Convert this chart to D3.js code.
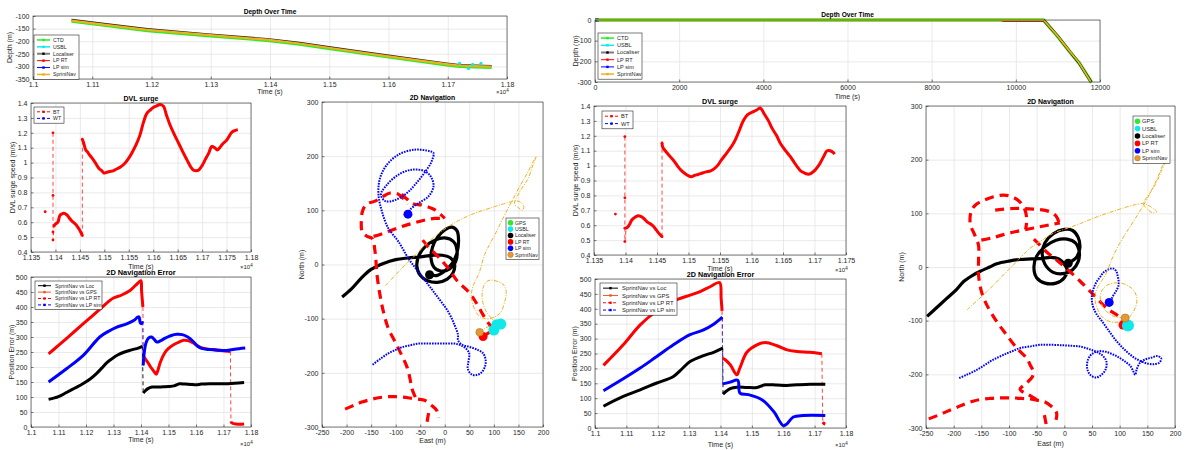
<!DOCTYPE html>
<html><head><meta charset="utf-8">
<script src="https://cdn.jsdelivr.net/npm/d3@7"></script>
<style>
body{margin:0;background:#fff}
svg{display:block}
</style></head><body>
<svg id="fig" width="1188" height="450"></svg>
<script>
// ---------------- tick values ----------------
const timeTicks8 = [1.1, 1.11, 1.12, 1.13, 1.14, 1.15, 1.16, 1.17, 1.18];
const dvlTicksL = [1.135, 1.14, 1.145, 1.15, 1.155, 1.16, 1.165, 1.17, 1.175, 1.18];
const dvlTicksR = [1.135, 1.14, 1.145, 1.15, 1.155, 1.16, 1.165, 1.17, 1.175];
const surgeTicks = [0.4, 0.5, 0.6, 0.7, 0.8, 0.9, 1, 1.1, 1.2, 1.3, 1.4];
const errTicks = [0, 50, 100, 150, 200, 250, 300, 350, 400, 450, 500];
const depthTicksL = [-350, -300, -250, -200, -150, -100];
const depthTicksR = [-300, -200, -100, 0];
const secondsTicks = [0, 2000, 4000, 6000, 8000, 10000, 12000];
const eastTicks = [-250, -200, -150, -100, -50, 0, 50, 100, 150, 200];
const northTicks = [-300, -200, -100, 0, 100, 200, 300];

// ---------------- legend names ----------------
const depthNames = ['CTD', 'USBL', 'Localiser', 'LP RT', 'LP sim', 'SprintNav'];
const dvlNames = ['BT', 'WT'];
const errNames = ['SprintNav vs Loc', 'SprintNav vs GPS', 'SprintNav vs LP RT', 'SprintNav vs LP sim'];
const navNames = ['GPS', 'USBL', 'Localiser', 'LP RT', 'LP sim', 'SprintNav'];

// ---------------- depth over time (left run, time x10^4 s) ----------------
const ctdDepthL = [[1.1065,-122],[1.113,-141],[1.1193,-159],[1.1294,-179],[1.1395,-198],[1.145,-213],[1.1499,-230],[1.1597,-263],[1.1698,-295],[1.172,-301],[1.1774,-305]];
const locDepthL = [[1.1065,-115],[1.113,-134],[1.1193,-152],[1.1294,-172],[1.1395,-191],[1.145,-206],[1.1499,-223],[1.1597,-256],[1.1698,-288],[1.172,-294],[1.1774,-298]];
const navDepthL = [[1.1065,-118],[1.113,-137],[1.1193,-155],[1.1294,-175],[1.1395,-194],[1.145,-209],[1.1499,-226],[1.1597,-259],[1.1698,-291],[1.172,-297],[1.1774,-301]];
const usblDepthL = [[1.172,-288],[1.1735,-308],[1.1742,-292],[1.1756,-288]];

// ---------------- depth over time (right run, s) ----------------
const ctdDepthR = [[0,0],[10660,0],[10990,-78],[11300,-158],[11500,-207],[11800,-302]];
const locDepthR = [[9700,-1],[10660,-1],[10985,-75],[11295,-156],[11492,-205],[11790,-300]];
const lpRtDepthR = [[9650,-4],[10660,-4],[10980,-74],[11292,-155]];
const lpSimDepthR = [[0,0],[90,0]];
const navDepthR = [[0,0],[10660,0],[10976,-73],[11292,-154],[11490,-203],[11785,-300]];

// ---------------- DVL surge, bottom track (left run) ----------------
const btSpotL = [[1.1379,0.67]];
const btDropL = [[1.1395,1.2],[1.1395,0.78],[1.1395,0.535],[1.1395,0.48],[1.1397,0.575]];
const btArcL1 = [[1.1397,0.575],[1.1401,0.59],[1.1405,0.6],[1.1409,0.645],[1.1413,0.655],[1.1417,0.66],[1.1423,0.65],[1.1428,0.63],[1.1433,0.61],[1.1438,0.595],[1.1443,0.58],[1.1447,0.56],[1.145,0.545],[1.1453,0.525],[1.1455,0.51]];
const btRiseL = [[1.1455,0.51],[1.1455,1.157]];
const btArcL2 = [[1.1455,1.157],[1.1457,1.14],[1.1462,1.085],[1.1466,1.07],[1.147,1.05],[1.1475,1.03],[1.148,1.007],[1.1485,0.98],[1.149,0.957],[1.1495,0.945],[1.1499,0.93],[1.1505,0.935],[1.1511,0.94],[1.1518,0.945],[1.1525,0.957],[1.1533,0.97],[1.1542,0.995],[1.155,1.03],[1.1556,1.063],[1.1565,1.12],[1.1573,1.186],[1.158,1.27],[1.1587,1.33],[1.1593,1.35],[1.16,1.37],[1.1607,1.38],[1.1614,1.39],[1.1621,1.378],[1.1627,1.32],[1.1634,1.256],[1.1643,1.19],[1.1652,1.13],[1.166,1.075],[1.1669,1.018],[1.1676,0.975],[1.1682,0.95],[1.1688,0.945],[1.1693,0.95],[1.17,0.98],[1.1706,1.018],[1.1713,1.06],[1.172,1.108],[1.1726,1.1],[1.1731,1.085],[1.1736,1.1],[1.1742,1.125],[1.175,1.15],[1.1761,1.205],[1.1767,1.215],[1.1773,1.22]];

// ---------------- DVL surge, bottom track (right run) ----------------
const btSpotR = [[1.1384,0.675]];
const btDropR = [[1.1399,1.195],[1.1399,0.784],[1.1399,0.58],[1.1399,0.49],[1.1401,0.58]];
const btArcR1 = [[1.1401,0.58],[1.1404,0.59],[1.1407,0.61],[1.141,0.635],[1.1414,0.65],[1.142,0.663],[1.1425,0.657],[1.1429,0.645],[1.1433,0.628],[1.1437,0.615],[1.1441,0.605],[1.1445,0.59],[1.1449,0.567],[1.1453,0.545],[1.1458,0.523]];
const btRiseR = [[1.1458,0.523],[1.1458,1.152]];
const btArcR2 = [[1.1458,1.152],[1.1459,1.125],[1.1463,1.1],[1.1467,1.08],[1.1472,1.055],[1.1478,1.025],[1.1483,0.995],[1.1488,0.97],[1.1496,0.942],[1.1504,0.925],[1.151,0.935],[1.1515,0.94],[1.1522,0.95],[1.1528,0.958],[1.1535,0.965],[1.1541,0.98],[1.1547,1.005],[1.1552,1.036],[1.1562,1.092],[1.157,1.14],[1.1575,1.18],[1.1581,1.24],[1.1586,1.293],[1.1594,1.342],[1.1604,1.364],[1.1609,1.375],[1.1614,1.387],[1.162,1.348],[1.1627,1.3],[1.1633,1.248],[1.164,1.2],[1.1646,1.148],[1.1654,1.1],[1.1662,1.058],[1.1668,1.02],[1.1673,0.99],[1.1678,0.965],[1.1683,0.953],[1.1691,0.942],[1.1699,0.962],[1.1707,1.003],[1.1715,1.065],[1.172,1.1],[1.1725,1.1],[1.1729,1.09],[1.1732,1.077]];

// ---------------- 2D navigation error (left run) ----------------
const errLocL1 = [[1.1064,92],[1.11,101],[1.1129,115],[1.116,130],[1.119,145],[1.1215,160],[1.1238,178],[1.1258,197],[1.1275,214],[1.1295,228],[1.1315,240],[1.134,250],[1.1365,257],[1.139,263],[1.1405,269]];
const errLocLJ = [[1.1405,269],[1.1408,113]];
const errLocL2 = [[1.1408,113],[1.1415,120],[1.1425,128],[1.144,133],[1.146,133],[1.148,134],[1.15,135],[1.152,137],[1.154,144],[1.156,143],[1.158,142],[1.16,141],[1.162,143],[1.165,144],[1.168,144],[1.171,144],[1.174,146],[1.1775,148]];
const errRtL1 = [[1.1064,244],[1.11,272],[1.114,304],[1.118,336],[1.122,368],[1.1255,396],[1.1287,422],[1.13,430],[1.133,440],[1.136,455],[1.138,472],[1.1395,485],[1.14,487],[1.1402,455],[1.1405,420],[1.1407,400]];
const errRtLJ = [[1.1407,400],[1.1408,238]];
const errRtL2 = [[1.1408,238],[1.1415,228],[1.1425,215],[1.1435,200],[1.1445,188],[1.1455,176],[1.146,185],[1.147,215],[1.1485,245],[1.15,262],[1.152,275],[1.154,284],[1.1555,289],[1.157,288],[1.159,280],[1.161,268],[1.163,262],[1.166,258],[1.169,255],[1.1725,252]];
const errRtLJ2 = [[1.1725,252],[1.1727,19]];
const errRtL3 = [[1.1727,19],[1.173,14],[1.1745,10],[1.176,9],[1.1775,10]];
const errSimL1 = [[1.1064,150],[1.1129,194],[1.119,239],[1.125,300],[1.128,318],[1.131,332],[1.1348,344],[1.1375,356],[1.1388,366],[1.1393,367],[1.1397,348],[1.1402,345],[1.1406,352]];
const errSimLJ = [[1.1406,352],[1.1408,205]];
const errSimL2 = [[1.1408,205],[1.1412,250],[1.1418,280],[1.1428,297],[1.1438,300],[1.1448,292],[1.1458,283],[1.147,287],[1.149,297],[1.151,305],[1.153,309],[1.155,308],[1.157,300],[1.159,285],[1.1605,270],[1.162,262],[1.165,258],[1.168,256],[1.171,255],[1.174,259],[1.1779,263]];

// ---------------- 2D navigation error (right run) ----------------
const errLocR1 = [[1.1027,73],[1.109,106],[1.1144,128],[1.1197,151],[1.125,173],[1.1277,198],[1.1303,223],[1.1346,243],[1.1378,254],[1.1407,268]];
const errLocRJ = [[1.1407,268],[1.1408,114]];
const errLocR2 = [[1.1408,114],[1.1431,132],[1.1452,137],[1.1484,136],[1.1516,136],[1.1543,145],[1.158,144],[1.1612,143],[1.1644,145],[1.1686,147],[1.1734,147]];
const errRtR1 = [[1.1027,210],[1.109,279],[1.1144,346],[1.1197,393],[1.125,426],[1.1303,446],[1.1335,458],[1.1367,474],[1.1397,488],[1.1402,435],[1.1405,393]];
const errRtRJ = [[1.1405,393],[1.1407,234]];
const errRtR2 = [[1.1407,234],[1.1415,229],[1.1431,212],[1.1452,179],[1.1461,199],[1.1484,254],[1.1516,279],[1.1543,287],[1.158,276],[1.1612,262],[1.1644,257],[1.1686,254],[1.1723,249]];
const errRtRJ2 = [[1.1723,249],[1.1726,20]];
const errRtR3 = [[1.1726,20],[1.173,15],[1.1734,13]];
const errSimR1 = [[1.1027,125],[1.109,165],[1.1144,201],[1.1197,240],[1.125,279],[1.1303,313],[1.1346,329],[1.1378,348],[1.1406,372]];
const errSimRJ = [[1.1406,372],[1.1407,148]];
const errSimR2 = [[1.1407,148],[1.1431,154],[1.1455,160],[1.1462,117],[1.1489,112],[1.1532,95],[1.1569,56],[1.16,8],[1.1611,13],[1.1632,37],[1.1664,42],[1.1734,42]];

// ---------------- 2D navigation tracks, East/North (m) (left run) ----------------
const locTrackL = [[-209,-60],[-190,-45],[-170,-25],[-150,-9],[-125,2],[-100,9],[-75,12],[-50,14],[-25,17],[-5,17],[12,12],[20,0],[17,-15],[5,-27],[-15,-33],[-35,-30],[-50,-20],[-57,-2],[-52,18],[-40,33],[-20,45],[0,49],[18,42],[25,25],[22,5],[10,-8],[-8,-12],[-22,-5],[-28,12],[-25,32],[-15,50],[0,64],[15,69],[25,62],[28,45],[25,22],[15,2],[0,-12],[-15,-20],[-31,-19]];
const lpRtTrackL = [[-203,-267],[-185,-260],[-169,-254],[-150,-249],[-135,-246],[-115,-244],[-101,-244],[-85,-245],[-67,-247],[-50,-249],[-40,-251],[-27,-260],[-16,-270],[-12,-283],null,
  [-33,-274],[-35,-285],[-37,-297],null,
  [-60,-245],[-67,-229],[-71,-210],[-77,-189],[-88,-167],[-101,-143],[-115,-118],[-125,-87],[-132,-56],[-138,-19],[-142,24],[-148,48],[-158,52],[-168,60],[-170,79],[-167,100],[-158,112],[-142,117],[-125,126],[-111,132],[-95,130],[-85,122],[-75,112],null,
  [-88,130],[-76,120],[-65,112],[-47,110],[-30,105],[-20,101],[-8,92],[0,85],null,
  [-145,52],[-130,56],[-115,61],[-100,66],[-88,70],[-70,75],[-54,79],[-35,83],[-20,85],[0,85],null,
  [-45,45],[-33,32],[-13,14],[7,-7],[27,-32],[48,-50],[65,-72],[78,-93],[92,-112],[100,-118],[88,-127],[78,-133]];
const lpSimTrackL = [[-147,-185],[-131,-174],[-115,-164],[-101,-158],[-88,-153],[-70,-149],[-54,-146],[-33,-146],[-13,-146],[5,-146],[20,-146],[35,-150],[45,-157],[50,-165],[48,-180],[47,-193],[55,-203],[65,-204],[75,-199],[82,-188],[83,-175],[78,-164],[68,-158],[50,-152],[35,-148],[27,-140],[27,-130],[20,-112],[7,-87],[-13,-62],[-33,-38],[-54,-13],[-74,11],[-94,42],[-115,67],[-128,98],[-135,129],[-132,159],[-118,184],[-94,203],[-61,212],[-30,209],[-23,206],[-27,190],[-44,166],[-61,147],[-77,132],[-101,119],[-121,117],[-130,129],[-118,147],[-94,166],[-67,175],[-40,172],[-27,160],[-23,144],[-33,126],[-54,113],[-71,101],[-75,93]];
const sprintTrackL = [[-121,-39],[-101,-20],[-81,-1],[-57,20],[-33,42],[-13,57],[7,70],[30,82],[54,92],[78,100],[102,107],[120,112],[136,116],[149,117],[157,113],[161,105],[158,100],[150,105],[142,112],[150,130],[160,145],[170,159],[178,180],[186,199],[180,190],[170,172],[155,148],[136,116],[120,88],[102,55],[90,35],[81,18],[73,-7],[68,-20],[61,-32],[56,-45],[54,-56],[56,-70],[62,-85],[71,-96],[83,-100],[95,-99],[107,-94],[115,-87],[121,-72],[125,-56],[124,-45],[118,-36],[109,-32],[98,-29],[88,-30],[80,-38],[76,-55],[78,-72],[85,-88],[96,-100],[102,-108],[88,-115],[78,-120],[71,-125]];
const usblFixesL = [[100,-121],[106,-111],[114,-110]];

// ---------------- 2D navigation tracks, East/North (m) (right run) ----------------
const locTrackR = [[-248,-92],[-230,-75],[-212,-58],[-195,-42],[-182,-27],[-165,-15],[-152,-8],[-135,0],[-122,6],[-100,11],[-80,14],[-60,15],[-40,16],[-25,18],[-10,15],[0,5],[5,-5],[0,-20],[-15,-30],[-35,-30],[-50,-20],[-55,0],[-50,20],[-35,38],[-15,50],[5,52],[20,45],[27,28],[25,10],[15,-5],[0,-12],[-20,-10],[-35,5],[-40,25],[-35,45],[-20,62],[0,70],[15,68],[25,55],[28,35],[22,18],[7,7]];
const lpRtTrackR = [[-245,-283],[-225,-275],[-212,-269],[-195,-262],[-182,-256],[-165,-250],[-152,-247],[-135,-245],[-122,-244],[-105,-244],[-92,-244],[-75,-245],[-62,-246],[-50,-248],[-38,-250],[-23,-260],[-14,-272],[-15,-285],null,
  [-36,-276],[-34,-287],[-32,-297],null,
  [-50,-247],[-65,-238],[-80,-228],[-70,-218],[-58,-205],[-56,-195],[-62,-182],[-68,-170],[-86,-151],[-104,-127],[-122,-102],[-140,-71],[-150,-45],[-155,-15],[-155,15],[-155,40],[-162,60],[-170,80],[-168,105],[-160,116],[-152,121],[-128,131],[-110,134],[-95,131],[-80,121],[-71,106],[-68,87],[-70,70],null,
  [-150,50],[-128,55],[-104,62],[-74,69],[-44,75],[-20,80],[-8,82],null,
  [-125,106],[-92,109],[-56,108],[-26,103],[-15,95],[-10,84],null,
  [-55,52],[-50,47],[-32,28],[-14,13],[4,-3],[29,-27],[53,-52],[77,-77],[101,-95],[106,-108]];
const lpSimTrackR = [[-190,-207],[-177,-201],[-164,-195],[-149,-186],[-134,-176],[-119,-168],[-104,-161],[-92,-156],[-80,-151],[-62,-148],[-44,-145],[-22,-145],[-1,-146],[15,-147],[28,-148],[42,-152],[53,-156],[62,-160],[70,-166],[76,-176],[75,-190],[67,-201],[57,-206],[46,-200],[41,-187],[43,-172],[50,-162],[62,-157],[75,-158],[88,-163],[101,-170],[112,-178],[119,-184],[124,-193],[128,-201],[131,-190],[137,-178],[147,-172],[157,-169],[168,-166],[175,-170],[172,-178],[162,-181],[150,-180],[137,-175],[125,-168],[113,-158],[104,-149],[95,-139],[86,-127],[77,-114],[68,-101],[59,-89],[53,-77],[50,-65],[50,-52],[53,-40],[58,-28],[65,-18],[71,-10],[77,-6],[84,-3],[89,-3],[94,-8],[96,-15],[98,-25],[98,-34],[94,-44],[89,-52],[85,-60],[81,-66]];
const sprintTrackR = [[-176,-80],[-158,-63],[-140,-46],[-116,-21],[-92,4],[-77,20],[-62,35],[-40,50],[-20,63],[5,72],[29,81],[53,91],[77,100],[95,106],[113,112],[128,116],[143,118],[155,113],[163,107],[167,103],[160,101],[150,108],[143,118],[155,138],[167,159],[175,178],[182,196],[178,190],[173,177],[160,148],[143,115],[128,90],[113,66],[100,44],[89,22],[83,7],[77,-9],[68,-25],[59,-40],[56,-52],[56,-65],[60,-78],[65,-89],[73,-97],[83,-102],[95,-103],[107,-102],[117,-94],[125,-83],[130,-70],[131,-58],[128,-48],[122,-40],[112,-33],[101,-30],[88,-30],[77,-34],[69,-42],[65,-52],[66,-65],[71,-77],[80,-86],[89,-92],[100,-94],[110,-95]];
const usblFixesR = [[115,-109]];

// ---------------- styling ----------------
const FONT = '"Liberation Sans", Arial, Helvetica, sans-serif';
const INK = '#262626';
const C = {
  ctd: '#22ee22', usbl: '#11e8e8', loc: '#000000', rt: '#ff0000', sim: '#0000ff',
  sprint: '#edb120', gps: '#e8582a', gpsDot: '#33e633'
};
const svg = d3.select('#fig').attr('font-family', FONT);
const fmt = v => String(+(+v).toFixed(4));

function panel(o) {
  const x = d3.scaleLinear().domain(o.xDomain).range([o.left, o.right]);
  const y = d3.scaleLinear().domain(o.yDomain).range([o.bottom, o.top]);
  const w = o.right - o.left, h = o.bottom - o.top;
  const g = svg.append('g');
  const gridStyle = s => {
    s.select('.domain').remove();
    s.selectAll('line').attr('stroke', '#e1e1e1').attr('stroke-width', 0.7);
  };
  g.append('g').attr('transform', `translate(0,${o.bottom})`)
    .call(d3.axisBottom(x).tickValues(o.xTicks).tickSize(-h).tickFormat(''))
    .call(gridStyle);
  g.append('g').attr('transform', `translate(${o.left},0)`)
    .call(d3.axisLeft(y).tickValues(o.yTicks).tickSize(-w).tickFormat(''))
    .call(gridStyle);
  const plot = g.append('g');
  const ax = g.append('g').attr('transform', `translate(0,${o.bottom})`)
    .call(d3.axisBottom(x).tickValues(o.xTicks).tickFormat(fmt).tickSizeInner(-2.5).tickSizeOuter(0).tickPadding(3.5));
  const ay = g.append('g').attr('transform', `translate(${o.left},0)`)
    .call(d3.axisLeft(y).tickValues(o.yTicks).tickFormat(fmt).tickSizeInner(-2.5).tickSizeOuter(0).tickPadding(3.5));
  [ax, ay].forEach(a => {
    a.attr('font-family', FONT).attr('font-size', 7);
    a.select('.domain').remove();
    a.selectAll('line').attr('stroke', INK).attr('stroke-width', 0.6);
    a.selectAll('text').attr('fill', INK);
  });
  g.append('rect').attr('x', o.left).attr('y', o.top).attr('width', w).attr('height', h)
    .attr('fill', 'none').attr('stroke', INK).attr('stroke-width', 0.6);
  g.append('text').attr('x', (o.left + o.right) / 2).attr('y', o.titleY)
    .attr('text-anchor', 'middle').attr('font-size', o.titleSize).attr('font-weight', 'bold')
    .attr('fill', '#000').text(o.title);
  g.append('text').attr('x', (o.left + o.right) / 2).attr('y', o.xlabelY)
    .attr('text-anchor', 'middle').attr('font-size', 7).attr('fill', INK).text(o.xlabel);
  g.append('text').attr('transform', `translate(${o.ylabelX},${(o.top + o.bottom) / 2}) rotate(-90)`)
    .attr('text-anchor', 'middle').attr('font-size', 7).attr('fill', INK).text(o.ylabel);
  if (o.expY) {
    const t = g.append('text').attr('x', o.right - 11).attr('y', o.expY)
      .attr('font-size', 6).attr('fill', INK);
    t.append('tspan').text('\u00d710');
    t.append('tspan').attr('dy', -2.5).attr('font-size', 4.5).text('4');
  }
  return { x, y, g, plot };
}

function drawLine(p, data, style) {
  const line = d3.line().defined(d => d != null).x(d => p.x(d[0])).y(d => p.y(d[1]))
    .curve(style.smooth ? d3.curveCatmullRom.alpha(0.5) : d3.curveLinear);
  return p.plot.append('path').datum(data).attr('d', line)
    .attr('fill', 'none').attr('stroke', style.color).attr('stroke-width', style.width || 1)
    .attr('stroke-dasharray', style.dash || null)
    .attr('stroke-linejoin', 'round').attr('stroke-linecap', style.cap || 'butt');
}
function drawDots(p, data, style) {
  p.plot.append('g').selectAll('circle').data(data).join('circle')
    .attr('cx', d => p.x(d[0])).attr('cy', d => p.y(d[1])).attr('r', style.r)
    .attr('fill', style.color).attr('stroke', style.stroke || 'none').attr('stroke-width', style.sw || 0);
}

function legend(p, o) {
  const lg = p.g.append('g');
  const h = o.items.length * o.rowH + 3;
  lg.append('rect').attr('x', o.x).attr('y', o.y).attr('width', o.w).attr('height', h)
    .attr('fill', '#fff').attr('stroke', INK).attr('stroke-width', 0.6);
  o.items.forEach((it, i) => {
    const cy = o.y + 1.5 + o.rowH * (i + 0.5);
    if (it.kind === 'dot') {
      lg.append('circle').attr('cx', o.x + 4.5).attr('cy', cy).attr('r', it.r || 2.8)
        .attr('fill', it.color).attr('stroke', it.stroke || 'none').attr('stroke-width', 0.5);
    } else {
      const x0 = o.x + 3, x1 = o.x + 3 + o.sample;
      lg.append('line').attr('x1', x0).attr('x2', x1).attr('y1', cy).attr('y2', cy)
        .attr('stroke', it.color).attr('stroke-width', it.width || 1)
        .attr('stroke-dasharray', it.dash || null);
      lg.append('rect').attr('x', (x0 + x1) / 2 - 1.2).attr('y', cy - 1.2).attr('width', 2.4).attr('height', 2.4)
        .attr('fill', it.marker || it.color);
    }
    lg.append('text').attr('x', o.x + o.textX).attr('y', cy).attr('dy', '0.35em')
      .attr('font-size', o.fs).attr('fill', INK).text(it.label);
  });
}

const SOLID_THICK = c => ({ color: c, width: 3, smooth: true });
const JUMP = c => ({ color: c, width: 0.9, dash: '4,3' });

// ================= LEFT DASHBOARD =================
const depthL = panel({ left: 33, right: 507, top: 16, bottom: 79, xDomain: [1.1, 1.18], yDomain: [-350, -100],
  xTicks: timeTicks8, yTicks: depthTicksL, title: 'Depth Over Time', titleSize: 6.6, titleY: 13.5, xlabel: 'Time (s)', xlabelY: 94,
  ylabel: 'Depth (m)', ylabelX: 12, expY: 94 });
drawLine(depthL, ctdDepthL, { color: C.ctd, width: 2.6 });
drawLine(depthL, locDepthL, { color: '#222', width: 2 });
drawLine(depthL, navDepthL, { color: C.sprint, width: 2.2 });
drawDots(depthL, usblDepthL, { color: C.usbl, r: 1.6 });
legend(depthL, { x: 34, y: 35, w: 45, rowH: 6.9, fs: 5.2, sample: 13, textX: 19, items: [
  { label: depthNames[0], color: C.ctd, width: 1.5 },
  { label: depthNames[1], color: C.usbl, width: 1.5 },
  { label: depthNames[2], color: '#7f7f7f', width: 2, marker: '#000' },
  { label: depthNames[3], color: C.rt },
  { label: depthNames[4], color: C.sim },
  { label: depthNames[5], color: C.sprint, width: 1.5 } ] });

const dvlL = panel({ left: 31, right: 251, top: 103, bottom: 252, xDomain: [1.135, 1.18], yDomain: [0.4, 1.4],
  xTicks: dvlTicksL, yTicks: surgeTicks, title: 'DVL surge', titleSize: 7, titleY: 101, xlabel: 'Time (s)', xlabelY: 269,
  ylabel: 'DVL surge speed (m/s)', ylabelX: 15, expY: 269 });
drawLine(dvlL, btDropL, JUMP('#ff3030'));
drawLine(dvlL, btRiseL, JUMP('#ff3030'));
drawLine(dvlL, btArcL1, SOLID_THICK(C.rt));
drawLine(dvlL, btArcL2, SOLID_THICK(C.rt));
drawDots(dvlL, btSpotL.concat(btDropL, btRiseL), { color: C.rt, r: 1.4 });
legend(dvlL, { x: 34, y: 107, w: 30, rowH: 6.6, fs: 5.2, sample: 13, textX: 19, items: [
  { label: dvlNames[0], color: C.rt, dash: '3,2' },
  { label: dvlNames[1], color: C.sim, dash: '3,2' } ] });

const errL = panel({ left: 31, right: 251, top: 277, bottom: 427, xDomain: [1.1, 1.18], yDomain: [0, 500],
  xTicks: timeTicks8, yTicks: errTicks, title: '2D Navigation Error', titleSize: 7.4, titleY: 275, xlabel: 'Time (s)', xlabelY: 442,
  ylabel: 'Position Error (m)', ylabelX: 14, expY: 446 });
[[errLocLJ, '#000'], [errRtLJ, '#ff3030'], [errRtLJ2, '#ff3030'], [errSimLJ, '#3030ff']].forEach(([d, c]) =>
  drawLine(errL, d, JUMP(c)));
[errLocL1, errLocL2].forEach(d => drawLine(errL, d, SOLID_THICK(C.loc)));
[errRtL1, errRtL2, errRtL3].forEach(d => drawLine(errL, d, SOLID_THICK(C.rt)));
[errSimL1, errSimL2].forEach(d => drawLine(errL, d, SOLID_THICK(C.sim)));
legend(errL, { x: 35, y: 281, w: 67, rowH: 6.4, fs: 5.2, sample: 13, textX: 20, items: [
  { label: errNames[0], color: C.loc },
  { label: errNames[1], color: C.gps },
  { label: errNames[2], color: C.rt, dash: '3,2' },
  { label: errNames[3], color: C.sim, dash: '3,2' } ] });

const navL = panel({ left: 322, right: 543, top: 102, bottom: 427, xDomain: [-250, 200], yDomain: [-300, 300],
  xTicks: eastTicks, yTicks: northTicks, title: '2D Navigation', titleSize: 6.8, titleY: 100, xlabel: 'East (m)', xlabelY: 443,
  ylabel: 'North (m)', ylabelX: 304 });
drawLine(navL, locTrackL, { color: C.loc, width: 3.2, smooth: true });
drawLine(navL, lpRtTrackL, { color: C.rt, width: 3.2, dash: '9,6', smooth: true });
drawLine(navL, lpSimTrackL, { color: C.sim, width: 2, dash: '1.6,1.1', smooth: true });
drawLine(navL, sprintTrackL, { color: C.sprint, width: 1, dash: '4,1.5,1,1.5', smooth: true });
drawDots(navL, [locTrackL[locTrackL.length - 1]], { color: C.loc, r: 4.5 });
drawDots(navL, [lpRtTrackL[lpRtTrackL.length - 1]], { color: C.rt, r: 4.5 });
drawDots(navL, [lpSimTrackL[lpSimTrackL.length - 1]], { color: C.sim, r: 4.5 });
drawDots(navL, usblFixesL, { color: C.usbl, r: 5.5 });
drawDots(navL, [sprintTrackL[sprintTrackL.length - 1]], { color: '#e39a35', r: 3.8, stroke: '#b07020', sw: 0.6 });
legend(navL, { x: 506, y: 218, w: 33, rowH: 6.4, fs: 5.2, textX: 9, items: [
  { label: navNames[0], kind: 'dot', color: C.gpsDot },
  { label: navNames[1], kind: 'dot', color: C.usbl },
  { label: navNames[2], kind: 'dot', color: C.loc },
  { label: navNames[3], kind: 'dot', color: C.rt },
  { label: navNames[4], kind: 'dot', color: C.sim },
  { label: navNames[5], kind: 'dot', color: '#e39a35', stroke: '#b07020' } ] });

// ================= RIGHT DASHBOARD =================
const depthR = panel({ left: 595, right: 1100, top: 20, bottom: 82, xDomain: [0, 12000], yDomain: [-300, 0],
  xTicks: secondsTicks, yTicks: depthTicksR, title: 'Depth Over Time', titleSize: 6.6, titleY: 17, xlabel: 'Time (s)', xlabelY: 99,
  ylabel: 'Depth (m)', ylabelX: 578 });
drawLine(depthR, ctdDepthR, { color: C.ctd, width: 3.6 });
drawLine(depthR, locDepthR, { color: '#111', width: 2.6 });
drawLine(depthR, lpRtDepthR, { color: '#b01010', width: 1.4 });
drawLine(depthR, lpSimDepthR, { color: C.sim, width: 3 });
drawLine(depthR, navDepthR, { color: C.sprint, width: 1.8 });
legend(depthR, { x: 598, y: 33, w: 44, rowH: 7.2, fs: 5.6, sample: 13, textX: 19, items: [
  { label: depthNames[0], color: C.ctd, width: 1.5 },
  { label: depthNames[1], color: C.usbl, width: 1.5 },
  { label: depthNames[2], color: '#7f7f7f', width: 2, marker: '#000' },
  { label: depthNames[3], color: C.rt },
  { label: depthNames[4], color: C.sim },
  { label: depthNames[5], color: C.sprint, width: 1.5 } ] });

const dvlR = panel({ left: 594, right: 846, top: 106, bottom: 255, xDomain: [1.135, 1.175], yDomain: [0.4, 1.4],
  xTicks: dvlTicksR, yTicks: surgeTicks, title: 'DVL surge', titleSize: 7.2, titleY: 104, xlabel: 'Time (s)', xlabelY: 271,
  ylabel: 'DVL surge speed (m/s)', ylabelX: 578, expY: 272 });
drawLine(dvlR, btDropR, JUMP('#ff3030'));
drawLine(dvlR, btRiseR, JUMP('#ff3030'));
drawLine(dvlR, btArcR1, SOLID_THICK(C.rt));
drawLine(dvlR, btArcR2, SOLID_THICK(C.rt));
drawDots(dvlR, btSpotR.concat(btDropR, btRiseR), { color: C.rt, r: 1.4 });
legend(dvlR, { x: 602, y: 111, w: 31, rowH: 7.4, fs: 5.6, sample: 13, textX: 19, items: [
  { label: dvlNames[0], color: C.rt, dash: '3,2' },
  { label: dvlNames[1], color: C.sim, dash: '3,2' } ] });

const errR = panel({ left: 595, right: 846, top: 279, bottom: 428, xDomain: [1.1, 1.18], yDomain: [0, 500],
  xTicks: timeTicks8, yTicks: errTicks, title: '2D Navigation Error', titleSize: 7.2, titleY: 277, xlabel: 'Time (s)', xlabelY: 447,
  ylabel: 'Position Error (m)', ylabelX: 577, expY: 447 });
[[errLocRJ, '#000'], [errRtRJ, '#ff3030'], [errRtRJ2, '#ff3030'], [errSimRJ, '#3030ff']].forEach(([d, c]) =>
  drawLine(errR, d, JUMP(c)));
[errLocR1, errLocR2].forEach(d => drawLine(errR, d, SOLID_THICK(C.loc)));
[errRtR1, errRtR2, errRtR3].forEach(d => drawLine(errR, d, SOLID_THICK(C.rt)));
[errSimR1, errSimR2].forEach(d => drawLine(errR, d, SOLID_THICK(C.sim)));
legend(errR, { x: 600, y: 283, w: 77, rowH: 7.3, fs: 5.9, sample: 15, textX: 22, items: [
  { label: errNames[0], color: C.loc },
  { label: errNames[1], color: C.gps },
  { label: errNames[2], color: C.rt, dash: '3,2' },
  { label: errNames[3], color: C.sim, dash: '3,2' } ] });

const navR = panel({ left: 926, right: 1175, top: 106, bottom: 428, xDomain: [-250, 200], yDomain: [-300, 300],
  xTicks: eastTicks, yTicks: northTicks, title: '2D Navigation', titleSize: 7, titleY: 104, xlabel: 'East (m)', xlabelY: 446,
  ylabel: 'North (m)', ylabelX: 904 });
drawLine(navR, locTrackR, { color: C.loc, width: 3.2, smooth: true });
drawLine(navR, lpRtTrackR, { color: C.rt, width: 3.2, dash: '9,6', smooth: true });
drawLine(navR, lpSimTrackR, { color: C.sim, width: 2, dash: '1.6,1.1', smooth: true });
drawLine(navR, sprintTrackR, { color: C.sprint, width: 1, dash: '4,1.5,1,1.5', smooth: true });
drawDots(navR, [locTrackR[locTrackR.length - 1]], { color: C.loc, r: 4.5 });
drawDots(navR, [lpRtTrackR[lpRtTrackR.length - 1]], { color: C.rt, r: 4.5 });
drawDots(navR, [lpSimTrackR[lpSimTrackR.length - 1]], { color: C.sim, r: 4.5 });
drawDots(navR, usblFixesR, { color: C.usbl, r: 6 });
drawDots(navR, [sprintTrackR[sprintTrackR.length - 1]], { color: '#e39a35', r: 4, stroke: '#b07020', sw: 0.6 });
legend(navR, { x: 1133, y: 116, w: 37, rowH: 7.4, fs: 5.8, textX: 9, items: [
  { label: navNames[0], kind: 'dot', color: C.gpsDot },
  { label: navNames[1], kind: 'dot', color: C.usbl },
  { label: navNames[2], kind: 'dot', color: C.loc },
  { label: navNames[3], kind: 'dot', color: C.rt },
  { label: navNames[4], kind: 'dot', color: C.sim },
  { label: navNames[5], kind: 'dot', color: '#e39a35', stroke: '#b07020' } ] });
</script>
</body></html>
